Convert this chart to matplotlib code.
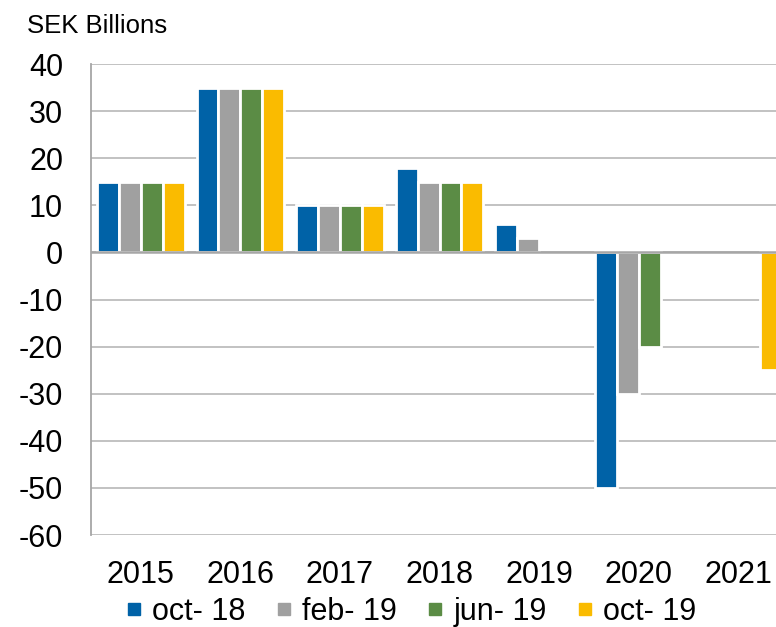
import matplotlib
matplotlib.use("Agg")
import matplotlib.pyplot as plt
from matplotlib.lines import Line2D
import numpy as np

plt.rcParams['font.family'] = ['Liberation Sans', 'DejaVu Sans']

years = ["2015", "2016", "2017", "2018", "2019", "2020", "2021"]
series_names = ["oct- 18", "feb- 19", "jun- 19", "oct- 19"]
oct18 = [15, 35, 10, 18, 6, -50, 0]
feb19 = [15, 35, 10, 15, 3, -30, 0]
jun19 = [15, 35, 10, 15, 0, -20, 0]
oct19 = [15, 35, 10, 15, 0, 0, -25]
colors = ["#0062A7", "#A0A0A0", "#5B8C45", "#FABB00"]
yticks = [40, 30, 20, 10, 0, -10, -20, -30, -40, -50, -60]

W, H = 776, 627
fig = plt.figure(figsize=(W / 100, H / 100), dpi=100)
ax = fig.add_axes([91 / W, 1 - 535 / H, 697 / W, 471 / H])

x = np.arange(len(years))
bw = 0.22
for j, (vals, c) in enumerate(zip([oct18, feb19, jun19, oct19], colors)):
    v = np.array(vals, dtype=float)
    v[v == 0] = np.nan
    ax.bar(x + (j - 1.5) * bw, v, width=bw, color=c, edgecolor="white",
           linewidth=2, zorder=3)

ax.set_xlim(-0.5, len(years) - 0.5)
ax.set_ylim(-60, 40)
ax.set_yticks(yticks)
ax.set_yticklabels([str(v) for v in yticks])
ax.set_xticks(x)
ax.set_xticklabels(years)
ax.tick_params(axis="y", length=0, pad=20, labelsize=22)
ax.tick_params(axis="x", length=0, pad=18, labelsize=22)

ax.yaxis.grid(True, color="#BDBDBD", linewidth=1.3, zorder=0)
ax.set_axisbelow(True)
ax.axhline(0, color="#A6A6A6", linewidth=1.8, zorder=4)
for s in ["top", "right", "bottom"]:
    ax.spines[s].set_visible(False)
ax.spines["left"].set_color("#A6A6A6")
ax.spines["left"].set_linewidth(1.3)

fig.text(27 / W, 1 - 33 / H, "SEK Billions", fontsize=18.5, ha="left", va="baseline")

handles = [Line2D([], [], linestyle="none", marker="s", markersize=8,
                  markerfacecolor=c, markeredgecolor=c) for c in colors]
fig.legend(handles, series_names, loc="lower center", ncol=4,
           bbox_to_anchor=(412 / W, 0.0), frameon=False, fontsize=22,
           handlelength=0.4, handletextpad=0.4, columnspacing=1.05,
           borderaxespad=0, borderpad=0.0)

fig.savefig("out.png", dpi=100)
